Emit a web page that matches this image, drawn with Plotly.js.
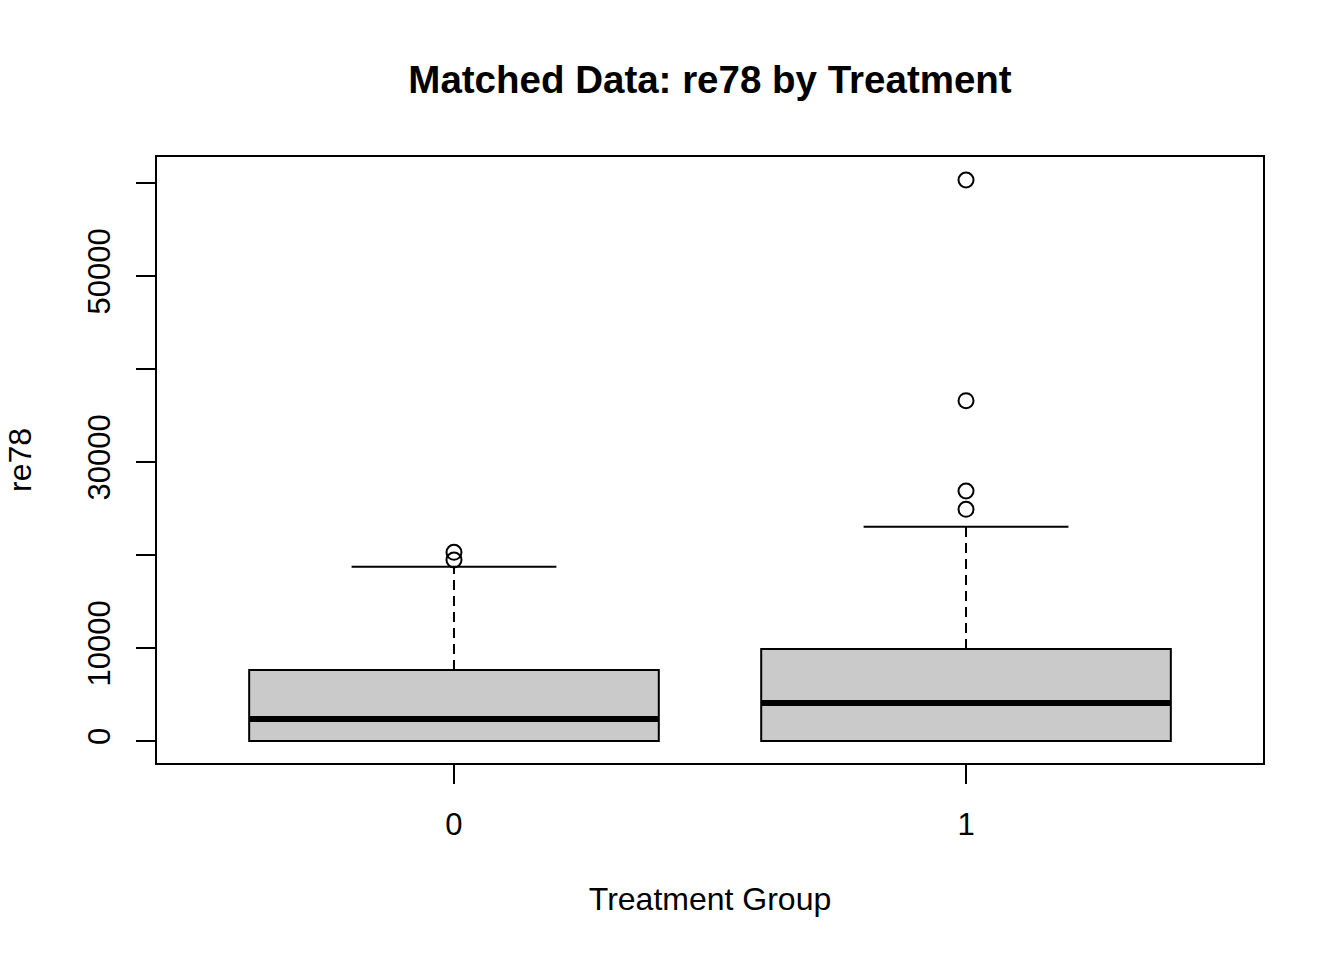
<!DOCTYPE html>
<html>
<head>
<meta charset="utf-8">
<script src="https://cdn.plot.ly/plotly-3.0.1.min.js"></script>
<style>html,body{margin:0;padding:0;background:#fff;}#chart{width:1344px;height:960px;}</style>
</head>
<body>
<div id="chart"></div>
<script>
// ---- data ----
const groups = ['0', '1'];
const q1 = [0, 0];
const medians = [2366, 4086];
const q3 = [7634, 9892];
const lowerWhisker = [0, 0];
const upperWhisker = [18742, 23043];
const outliers = [
  [19462, 20290],
  [24914, 26882, 36591, 60323]
];
const yTickVals = [0, 10000, 20000, 30000, 40000, 50000, 60000];
const yTickText = ['0', '10000', '', '30000', '', '50000', ''];

// ---- styles ----
const FONT = 'Liberation Sans, Arial, Helvetica, sans-serif';
const LW = 2;
const BOXW = 0.8;
const CAPW = 0.4;
const positions = groups.map((g, i) => i + 1);

const traces = [];
groups.forEach((g, i) => {
  const x = positions[i];
  traces.push({
    type: 'box', x: [x], q1: [q1[i]], median: [medians[i]], q3: [q3[i]],
    lowerfence: [q1[i]], upperfence: [q3[i]],
    width: BOXW, fillcolor: '#cacaca', line: {color: '#000', width: LW},
    boxpoints: false, hoverinfo: 'skip', showlegend: false
  });
  // median (thick)
  traces.push({
    type: 'scatter', mode: 'lines', x: [x - BOXW / 2, x + BOXW / 2], y: [medians[i], medians[i]],
    line: {color: '#000', width: 6}, hoverinfo: 'skip', showlegend: false
  });
  // whiskers (dashed)
  traces.push({
    type: 'scatter', mode: 'lines', x: [x, x, null, x, x],
    y: [q3[i], upperWhisker[i], null, q1[i], lowerWhisker[i]],
    line: {color: '#000', width: LW, dash: '10px,6px'}, hoverinfo: 'skip', showlegend: false
  });
  // caps
  traces.push({
    type: 'scatter', mode: 'lines',
    x: [x - CAPW / 2, x + CAPW / 2, null, x - CAPW / 2, x + CAPW / 2],
    y: [upperWhisker[i], upperWhisker[i], null, lowerWhisker[i], lowerWhisker[i]],
    line: {color: '#000', width: LW}, hoverinfo: 'skip', showlegend: false
  });
  // outliers
  traces.push({
    type: 'scatter', mode: 'markers', x: outliers[i].map(() => x), y: outliers[i],
    marker: {symbol: 'circle-open', size: 15, color: '#000', line: {width: LW, color: '#000'}},
    hoverinfo: 'skip', showlegend: false
  });
});

const layout = {
  width: 1344, height: 960,
  margin: {l: 157, r: 81, t: 157, b: 197},
  paper_bgcolor: '#fff', plot_bgcolor: '#fff',
  font: {family: FONT, color: '#000', size: 31},
  title: {
    text: '<b>Matched Data: re78 by Treatment</b>',
    font: {family: FONT, size: 38.5, color: '#000'},
    xref: 'paper', x: 0.5, xanchor: 'center',
    yref: 'container', y: 1 - 80 / 960, yanchor: 'middle'
  },
  xaxis: {
    range: [0.42, 2.58], tickvals: positions, ticktext: groups,
    ticks: 'outside', ticklen: 19, tickwidth: LW, tickcolor: '#000',
    showline: true, mirror: true, linecolor: '#000', linewidth: LW,
    showgrid: false, zeroline: false, ticklabelstandoff: 14,
    tickfont: {family: FONT, size: 31, color: '#000'},
    title: {text: 'Treatment Group', font: {family: FONT, size: 32, color: '#000'}, standoff: 46}
  },
  yaxis: {
    range: [-2366, 62796], tickvals: yTickVals, ticktext: yTickText, tickangle: -90,
    ticks: 'outside', ticklen: 19, tickwidth: LW, tickcolor: '#000',
    showline: true, mirror: true, linecolor: '#000', linewidth: LW,
    showgrid: false, zeroline: false, ticklabelstandoff: 14,
    tickfont: {family: FONT, size: 31, color: '#000'},
    title: {text: 're78', font: {family: FONT, size: 32, color: '#000'}, standoff: 40}
  }
};

Plotly.newPlot('chart', traces, layout, {displayModeBar: false, staticPlot: true});
</script>
</body>
</html>
